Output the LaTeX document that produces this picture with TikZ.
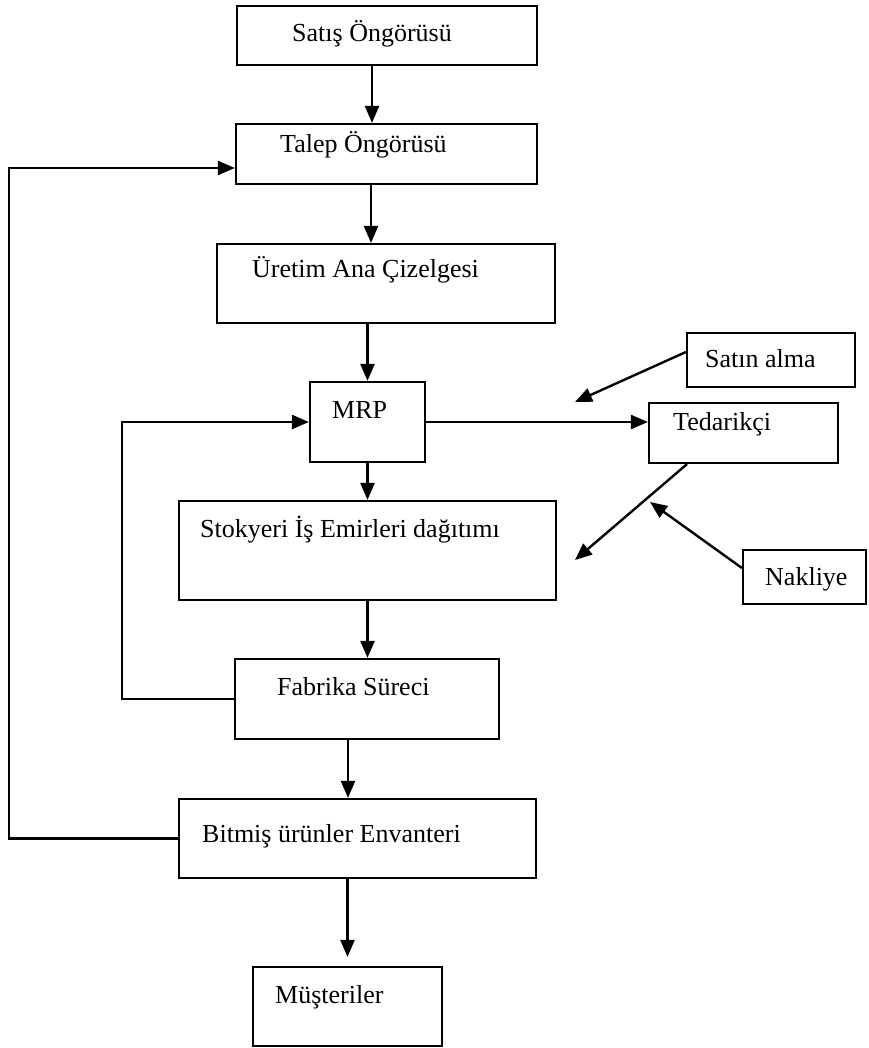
\documentclass[tikz,border=0pt]{standalone}
\usepackage{fontspec}
\setmainfont{Liberation Serif}
\usetikzlibrary{arrows.meta}
\begin{document}
\begin{tikzpicture}[x=1pt,y=1pt,
  box/.style={draw=black,line width=2.2pt,rectangle,inner sep=0pt,fill=white},
  lbl/.style={anchor=base west,inner sep=0pt,font=\fontsize{26}{30}\selectfont},
  arr/.style={draw=black,line width=2.4pt,-{Triangle[length=17pt,width=14pt]}},
  ln/.style={draw=black,line width=2.4pt}]
\useasboundingbox (0,0) rectangle (868,-1048);
% boxes
\node[box,minimum width=300pt,minimum height=59pt] (satis) at (387,-35.5) {};
\node[box,minimum width=301pt,minimum height=60pt] (talep) at (386.5,-154) {};
\node[box,minimum width=338pt,minimum height=79pt] (uretim) at (386,-283.5) {};
\node[box,minimum width=115pt,minimum height=80pt] (mrp) at (367.5,-422) {};
\node[box,minimum width=377pt,minimum height=99pt] (stok) at (367.5,-550.5) {};
\node[box,minimum width=264pt,minimum height=80pt] (fabrika) at (367,-699) {};
\node[box,minimum width=357pt,minimum height=79pt] (bitmis) at (357.5,-838.5) {};
\node[box,minimum width=189pt,minimum height=79pt] (musteri) at (347.5,-1006.5) {};
\node[box,minimum width=168pt,minimum height=54pt] (satin) at (771,-360) {};
\node[box,minimum width=189pt,minimum height=60pt] (tedar) at (743.5,-433) {};
\node[box,minimum width=123pt,minimum height=54pt] (nakl) at (804.5,-577) {};
% texts
\node[lbl] (satis-t) at (292,-42) {Satış Öngörüsü};
\node[lbl] (talep-t) at (280,-153) {Talep Öngörüsü};
\node[lbl] (uretim-t) at (252,-278) {Üretim Ana Çizelgesi};
\node[lbl] (mrp-t) at (332,-418) {MRP};
\node[lbl] (stok-t) at (200,-537) {Stokyeri İş Emirleri dağıtımı};
\node[lbl] (fabrika-t) at (277,-695) {Fabrika Süreci};
\node[lbl] (bitmis-t) at (202,-842) {Bitmiş ürünler Envanteri};
\node[lbl] (musteri-t) at (275,-1003) {Müşteriler};
\node[lbl] (satin-t) at (705,-367) {Satın alma};
\node[lbl] (tedar-t) at (673,-430) {Tedarikçi};
\node[lbl] (nakl-t) at (765,-585) {Nakliye};
% free ends
\coordinate (sa) at (575,-402);
\coordinate (te) at (575,-560);
\coordinate (na) at (650,-502);
% vertical flow
\draw[arr] ([xshift=-15pt]satis.south) -- ([xshift=-15pt]satis.south |- talep.north);
\draw[arr] ([xshift=-15.5pt]talep.south) -- ([xshift=-15.5pt]talep.south |- uretim.north);
\draw[arr] (uretim.south -| mrp.north) -- (mrp.north);
\draw[arr] (mrp.south) -- (mrp.south |- stok.north);
\draw[arr] (stok.south) -- (stok.south |- fabrika.north);
\draw[arr] ([xshift=-19pt]fabrika.south) -- ([xshift=-19pt]fabrika.south |- bitmis.north);
\draw[arr,shorten >=9pt] (bitmis.south -| musteri.north) -- (musteri.north);
% side flows
\draw[arr] (mrp.east) -- (mrp.east -| tedar.west);
\draw[arr] (fabrika.west) -- ++(-112pt,0) |- (mrp.west);
\draw[arr] (bitmis.west) -- ++(-169pt,0) |- ([yshift=-14pt]talep.west);
\draw[arr] ([yshift=8pt]satin.west) -- (sa);
\draw[arr] ([xshift=-56.5pt]tedar.south) -- (te);
\draw[arr] ([yshift=9pt]nakl.west) -- (na);
\end{tikzpicture}
\end{document}
